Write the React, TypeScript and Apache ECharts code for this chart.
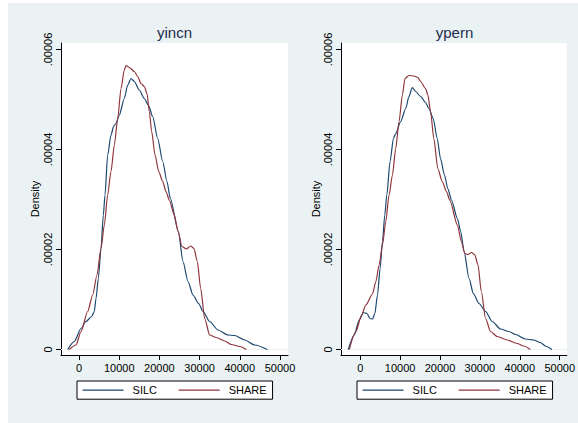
import React, { useEffect, useRef } from 'react';
import * as echarts from 'echarts';

const panelTitles = ['yincn', 'ypern'];
const seriesNames = ['SILC', 'SHARE'];
const xTickValues = [0, 10000, 20000, 30000, 40000, 50000];
const xTickLabels = ['0', '10000', '20000', '30000', '40000', '50000'];
const yTickValues = [0, 0.00002, 0.00004, 0.00006];
const yTickLabels = ['0', '.00002', '.00004', '.00006'];

// yincn panel
const yincnSilcX = [-2810, -1170, 500, 1740, 3160, 3810, 4230, 4810, 5470, 6050, 6470, 7130, 7960, 8630, 9200, 10030, 11270, 12110, 12935, 13760, 15000, 16250, 17240, 18330, 19580, 20820, 21890, 22710, 24700, 25870, 27110, 28360, 29770, 30850, 32500, 34580, 37060, 38730, 41220, 43700, 46840];
const yincnSilcY = [0, 0.16e-5, 0.42e-5, 0.56e-5, 0.66e-5, 0.76e-5, 1.02e-5, 1.42e-5, 2.02e-5, 2.69e-5, 3.09e-5, 3.89e-5, 4.29e-5, 4.47e-5, 4.52e-5, 4.69e-5, 5.02e-5, 5.29e-5, 5.42e-5, 5.36e-5, 5.19e-5, 5.02e-5, 4.89e-5, 4.66e-5, 4.22e-5, 3.76e-5, 3.36e-5, 3.02e-5, 2.37e-5, 1.76e-5, 1.36e-5, 1.09e-5, 0.92e-5, 0.76e-5, 0.56e-5, 0.39e-5, 0.29e-5, 0.28e-5, 0.19e-5, 0.09e-5, 0];
const yincnShareX = [-2410, -750, 500, 2150, 3400, 4480, 5470, 6300, 7130, 7960, 8790, 9630, 10450, 11270, 11690, 12510, 13760, 14600, 15420, 16250, 16920, 17490, 18080, 18910, 19830, 20820, 21640, 22460, 23710, 24630, 25620, 26700, 27780, 28610, 29430, 30270, 31270, 32500, 34150, 36240, 37890, 39970, 41620];
const yincnShareY = [0, 0.09e-5, 0.36e-5, 0.76e-5, 1.09e-5, 1.49e-5, 2.02e-5, 2.49e-5, 3.09e-5, 3.56e-5, 4.09e-5, 4.62e-5, 5.22e-5, 5.59e-5, 5.68e-5, 5.64e-5, 5.56e-5, 5.46e-5, 5.32e-5, 5.26e-5, 5.12e-5, 4.76e-5, 4.36e-5, 3.89e-5, 3.56e-5, 3.36e-5, 3.16e-5, 2.99e-5, 2.69e-5, 2.36e-5, 2.06e-5, 2.01e-5, 2.07e-5, 2.02e-5, 1.76e-5, 1.22e-5, 0.62e-5, 0.29e-5, 0.24e-5, 0.17e-5, 0.10e-5, 0.06e-5, 0];

// ypern panel
const ypernSilcX = [-2990, -1500, -250, 850, 1670, 2490, 3090, 3670, 4330, 4990, 5580, 6160, 6660, 7490, 8320, 8900, 10150, 11400, 12220, 13060, 13890, 15140, 16380, 17210, 18300, 19300, 20120, 21120, 21950, 22870, 24360, 25190, 26030, 27280, 28350, 29780, 31420, 33090, 35160, 37260, 38900, 41400, 43490, 45140, 46630, 48050];
const ypernSilcY = [0, 0.29e-5, 0.59e-5, 0.74e-5, 0.72e-5, 0.62e-5, 0.61e-5, 0.72e-5, 1.09e-5, 1.62e-5, 2.16e-5, 2.69e-5, 3.09e-5, 3.76e-5, 4.22e-5, 4.32e-5, 4.56e-5, 4.82e-5, 5.06e-5, 5.24e-5, 5.16e-5, 5.06e-5, 4.94e-5, 4.82e-5, 4.62e-5, 4.22e-5, 3.82e-5, 3.49e-5, 3.22e-5, 2.99e-5, 2.62e-5, 2.36e-5, 1.96e-5, 1.42e-5, 1.12e-5, 0.92e-5, 0.76e-5, 0.56e-5, 0.41e-5, 0.36e-5, 0.30e-5, 0.21e-5, 0.19e-5, 0.14e-5, 0.06e-5, 0];
const ypernShareX = [-2740, -1070, 350, 1420, 3090, 3920, 4740, 5580, 6410, 7230, 8080, 8900, 9730, 10570, 11220, 12220, 13470, 14460, 15140, 16380, 16960, 17630, 18450, 19450, 20550, 21620, 22440, 24360, 25360, 26190, 27030, 27860, 28680, 29530, 30350, 31420, 32670, 34340, 36830, 39330, 41000, 42640];
const ypernShareY = [0, 0.36e-5, 0.69e-5, 0.89e-5, 1.11e-5, 1.36e-5, 1.69e-5, 2.09e-5, 2.56e-5, 3.09e-5, 3.49e-5, 4.02e-5, 4.56e-5, 5.09e-5, 5.42e-5, 5.48e-5, 5.47e-5, 5.44e-5, 5.36e-5, 5.22e-5, 5.09e-5, 4.76e-5, 4.22e-5, 3.62e-5, 3.36e-5, 3.16e-5, 2.99e-5, 2.49e-5, 2.16e-5, 1.92e-5, 1.90e-5, 1.94e-5, 1.90e-5, 1.69e-5, 1.16e-5, 0.62e-5, 0.36e-5, 0.26e-5, 0.19e-5, 0.12e-5, 0.07e-5, 0];

const FONT = '"Liberation Sans", Arial, Helvetica, sans-serif';
const SILC_COLOR = '#1a476f';
const SHARE_COLOR = '#90353b';
const BG = '#EAF2F3';

const zip = (xs: number[], ys: number[]) => xs.map((x, i) => [x, ys[i]]);
const lookup = (vals: number[], labels: string[]) => (v: number) => {
  const i = vals.findIndex((t) => Math.abs(t - v) < Math.max(1e-12, Math.abs(t) * 1e-6));
  return i >= 0 ? labels[i] : '';
};

export default function App() {
  const ref = useRef<HTMLDivElement>(null);
  useEffect(() => {
    const chart = echarts.init(ref.current!, null, { renderer: 'svg' });
    const grids = [
      { left: 61, top: 43, width: 227, height: 312 },
      { left: 341, top: 43, width: 227, height: 312 },
    ];
    const xRanges = [
      [-4478, 51990],
      [-4813, 51795],
    ];
    const panelData = [
      [zip(yincnSilcX, yincnSilcY), zip(yincnShareX, yincnShareY)],
      [zip(ypernSilcX, ypernSilcY), zip(ypernShareX, ypernShareY)],
    ];
    const xAxes = grids.map((_, i) => ({
      type: 'value',
      gridIndex: i,
      min: xRanges[i][0],
      max: xRanges[i][1],
      axisLine: { show: true, onZero: false, lineStyle: { color: '#000', width: 1 } },
      axisTick: { show: true, length: 5, customValues: xTickValues, lineStyle: { color: '#000', width: 1 } },
      axisLabel: {
        show: true,
        customValues: xTickValues,
        formatter: lookup(xTickValues, xTickLabels),
        fontSize: 11,
        fontFamily: FONT,
        color: '#000',
        margin: 7,
        hideOverlap: false,
        showMinLabel: true,
        showMaxLabel: true,
      },
      splitLine: { show: false },
    }));
    const yAxes = grids.map((_, i) => ({
      type: 'value',
      gridIndex: i,
      min: -0.0000011,
      max: 0.0000613,
      axisLine: { show: true, onZero: false, lineStyle: { color: '#000', width: 1 } },
      axisTick: { show: true, length: 5, customValues: yTickValues, lineStyle: { color: '#000', width: 1 } },
      axisLabel: {
        show: true,
        customValues: yTickValues,
        formatter: lookup(yTickValues, yTickLabels),
        rotate: 90,
        fontSize: 11,
        fontFamily: FONT,
        color: '#000',
        margin: 8,
        showMinLabel: true,
        showMaxLabel: true,
      },
      splitLine: { show: false },
    }));
    const colors = [SILC_COLOR, SHARE_COLOR];
    const series: any[] = [];
    panelData.forEach((pair, p) => {
      pair.forEach((d, s) => {
        series.push({
          type: 'line',
          name: seriesNames[s],
          xAxisIndex: p,
          yAxisIndex: p,
          data: d,
          symbol: 'none',
          showSymbol: false,
          smooth: 0.25,
          smoothMonotone: 'x',
          lineStyle: { color: colors[s], width: 1.2 },
          itemStyle: { color: colors[s] },
          z: 3 + s,
          markLine:
            s === 0
              ? {
                  silent: true,
                  symbol: 'none',
                  label: { show: false },
                  lineStyle: { color: BG, type: 'solid', width: 1 },
                  z: 1,
                  data: yTickValues.map((v) => ({ yAxis: v })),
                }
              : undefined,
        });
      });
    });
    const legendLefts = [77, 357];
    const option: any = {
      animation: false,
      backgroundColor: '#ffffff',
      grid: grids.map((g) => ({ ...g, show: true, backgroundColor: '#ffffff', borderWidth: 0, containLabel: false })),
      xAxis: xAxes,
      yAxis: yAxes,
      legend: legendLefts.map((l) => ({
        show: true,
        left: l,
        top: 381,
        orient: 'horizontal',
        data: seriesNames,
        itemWidth: 41,
        itemHeight: 14,
        itemGap: 21,
        padding: [3.5, 6, 3.5, 5],
        borderColor: '#000',
        borderWidth: 1,
        borderRadius: 0,
        backgroundColor: '#ffffff',
        selectedMode: false,
        itemStyle: { opacity: 0, borderWidth: 0 },
        lineStyle: { width: 1.2, opacity: 1 },
        textStyle: { fontSize: 11, fontFamily: FONT, color: '#000', padding: [0, 0, 0, 4] },
      })),
      graphic: [
        {
          type: 'rect',
          z: -100,
          silent: true,
          shape: { x: 8, y: 3, width: 570, height: 420 },
          style: { fill: BG },
        },
        ...panelTitles.map((t, i) => ({
          type: 'text',
          x: grids[i].left + grids[i].width / 2,
          y: 32,
          silent: true,
          style: { text: t, align: 'center', verticalAlign: 'middle', fontSize: 15, fontFamily: FONT, fill: '#1e2d4f' },
        })),
        ...[35, 316].map((x) => ({
          type: 'text',
          x,
          y: 199,
          rotation: Math.PI / 2,
          silent: true,
          style: { text: 'Density', align: 'center', verticalAlign: 'middle', fontSize: 11, fontFamily: FONT, fill: '#000' },
        })),
      ],
      series,
    };
    chart.setOption(option);
    return () => chart.dispose();
  }, []);
  return <div ref={ref} style={{ position: 'fixed', left: 0, top: 0, width: 578, height: 423 }} />;
}
